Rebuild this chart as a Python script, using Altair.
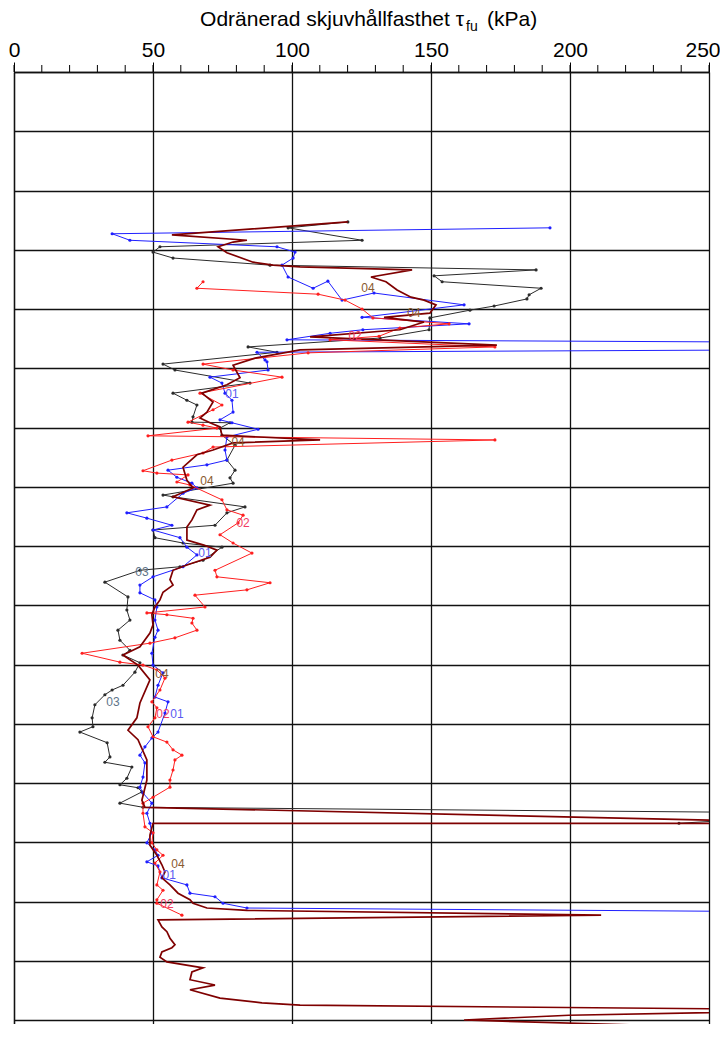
import altair as alt
import pandas as pd

# ---------------- data (kPa, depth m) ----------------
X_TICKS = [0, 50, 100, 150, 200, 250]
X_MINOR = list(range(0, 251, 10))
DEPTH_GRID = list(range(0, 17))
TITLE_PARTS = ["Odränerad skjuvhållfasthet τ", "fu", "(kPa)"]

S01 = [(192.8, 2.63), (35.3, 2.73), (41.7, 2.84), (94.6, 2.95), (101.1, 3.04), (100.4, 3.14),
       (96.4, 3.26), (98.6, 3.46), (107.6, 3.65), (112.9, 3.53), (118.0, 3.85), (129.5, 3.73),
       (161.9, 3.93), (125.2, 4.14), (163.7, 4.25), (125.5, 4.35), (113.7, 4.41), (98.2, 4.52),
       (320, 4.57), (320, 4.68), (87.4, 4.73), (90.3, 4.86), (91.0, 4.89), (91.4, 5.03),
       (70.5, 5.15), (74.8, 5.25), (75.9, 5.42), (78.4, 5.54), (78.8, 5.74), (74.1, 5.87),
       (78.4, 5.92), (87.8, 6.03), (76.6, 6.16), (75.9, 6.38), (76.6, 6.55), (69.4, 6.63),
       (55.4, 6.72), (58.6, 6.84), (64.0, 6.94), (65.8, 7.02), (60.8, 7.11), (55.0, 7.34),
       (40.6, 7.44), (47.8, 7.53), (56.8, 7.65), (50.0, 7.73), (59.7, 7.86), (62.2, 8.02),
       (65.8, 8.15), (60.8, 8.35), (50.0, 8.52), (45.3, 8.66), (45.3, 8.79), (50.7, 8.91),
       (51.4, 9.03), (50.7, 9.25), (51.8, 9.42), (50.7, 9.54), (49.6, 9.81), (50.0, 10.01),
       (53.6, 10.14), (51.8, 10.35), (50.7, 10.55), (55.4, 10.63), (54.3, 10.82), (51.8, 11.14),
       (49.6, 11.24), (47.1, 11.39), (45.3, 11.53), (47.1, 11.66), (46.4, 11.90), (45.3, 12.07),
       (46.4, 12.17), (49.6, 12.34), (47.8, 12.51), (48.9, 12.68), (49.6, 12.84), (47.8, 13.01),
       (50.7, 13.13), (51.8, 13.22), (47.8, 13.33), (51.8, 13.40), (53.2, 13.60), (62.2, 13.72),
       (63.3, 13.86), (72.3, 13.92), (75.2, 14.03), (83.8, 14.11), (300, 14.18)]

S02 = [(68.0, 3.54), (65.8, 3.65), (109.4, 3.75), (119.1, 3.85), (125.2, 4.00), (129.1, 4.15),
       (156.5, 4.25), (138.8, 4.32), (131.3, 4.46), (113.7, 4.52), (173.0, 4.64), (105.8, 4.74),
       (68.0, 4.93), (78.8, 5.03), (96.4, 5.15), (66.9, 5.42), (74.8, 5.62), (71.6, 5.70),
       (62.6, 5.91), (68.0, 5.96), (73.0, 6.01), (48.2, 6.14), (173.0, 6.21), (71.6, 6.33),
       (68.0, 6.43), (56.8, 6.55), (46.4, 6.73), (51.4, 6.77), (62.6, 6.80), (58.6, 6.92),
       (63.3, 6.97), (74.8, 7.22), (76.6, 7.39), (82.4, 7.48), (80.6, 7.61), (74.1, 7.81),
       (78.8, 7.95), (85.6, 8.12), (72.3, 8.41), (73.0, 8.52), (92.1, 8.62), (83.8, 8.74),
       (65.1, 8.83), (68.7, 9.03), (47.8, 9.13), (55.0, 9.16), (64.4, 9.22), (64.0, 9.30),
       (65.8, 9.42), (57.9, 9.55), (48.9, 9.64), (24.5, 9.81), (38.1, 9.96), (46.4, 10.01),
       (51.4, 10.09), (54.3, 10.23), (52.5, 10.43), (49.6, 10.63), (51.4, 10.73), (50.7, 10.90),
       (48.2, 11.05), (50.0, 11.22), (55.0, 11.31), (57.2, 11.44), (60.4, 11.53), (57.9, 11.61),
       (57.2, 11.78), (56.1, 11.95), (56.1, 12.07), (50.0, 12.24), (46.4, 12.34), (46.4, 12.51),
       (47.1, 12.74), (50.0, 12.84), (49.6, 13.01), (51.4, 13.13), (53.6, 13.22), (50.7, 13.35),
       (52.5, 13.50), (51.4, 13.72), (53.6, 13.81), (51.4, 13.97), (51.4, 14.03), (60.4, 14.23)]

S03 = [(120.1, 2.53), (98.6, 2.63), (125.2, 2.84), (52.5, 2.95), (50.0, 3.04), (57.2, 3.14),
       (92.1, 3.26), (187.8, 3.34), (151.1, 3.44), (154.0, 3.54), (189.6, 3.65), (185.3, 3.76),
       (184.5, 3.83), (172.7, 3.95), (164.0, 4.02), (149.6, 4.15), (149.3, 4.35), (131.7, 4.49),
       (84.2, 4.64), (94.6, 4.73), (53.6, 4.93), (57.9, 5.03), (84.9, 5.25), (57.2, 5.42),
       (62.2, 5.54), (65.8, 5.62), (64.4, 5.82), (64.0, 5.91), (77.7, 5.92), (74.1, 6.01),
       (74.8, 6.13), (79.5, 6.30), (76.6, 6.55), (79.5, 6.72), (77.7, 6.85), (78.8, 6.94),
       (53.6, 7.14), (57.2, 7.17), (83.1, 7.34), (76.6, 7.44), (72.3, 7.65), (50.0, 7.73),
       (50.7, 7.86), (60.8, 7.95), (74.8, 8.02), (68.0, 8.24), (59.7, 8.35), (45.3, 8.41),
       (32.7, 8.61), (41.0, 8.86), (40.6, 9.08), (41.7, 9.25), (37.4, 9.42), (38.1, 9.59),
       (41.7, 9.76), (39.2, 9.84), (45.3, 9.97), (43.5, 10.13), (39.2, 10.35), (35.3, 10.43),
       (32.7, 10.51), (29.1, 10.68), (28.1, 10.90), (28.4, 11.05), (23.7, 11.14), (33.5, 11.32),
       (34.5, 11.56), (32.7, 11.65), (42.4, 11.73), (40.6, 11.92), (38.1, 12.03), (44.6, 12.08),
       (46.0, 12.15), (38.1, 12.34), (46.4, 12.41), (300, 12.51), (239.2, 12.68)]

S04 = [(120.1, 2.53), (56.8, 2.75), (83.8, 2.84), (78.8, 2.87), (73.4, 2.95), (76.6, 3.05),
       (86.0, 3.21), (93.2, 3.26), (102.9, 3.29), (143.2, 3.34), (128.4, 3.46), (133.8, 3.54),
       (137.8, 3.68), (142.8, 3.80), (147.5, 3.85), (151.8, 3.93), (149.6, 4.07), (133.1, 4.14),
       (147.5, 4.22), (138.8, 4.35), (106.5, 4.47), (173.7, 4.61), (102.9, 4.69), (86.7, 4.83),
       (78.8, 4.95), (81.3, 5.16), (76.6, 5.28), (67.6, 5.42), (71.6, 5.57), (69.4, 5.74),
       (66.9, 5.84), (70.5, 5.92), (74.1, 5.99), (74.8, 6.13), (110.1, 6.21), (78.8, 6.26),
       (71.6, 6.38), (65.8, 6.46), (60.8, 6.67), (62.2, 6.89), (64.4, 7.02), (57.2, 7.17),
       (70.5, 7.31), (65.8, 7.39), (64.0, 7.56), (62.2, 7.68), (62.2, 7.90), (68.0, 7.98),
       (73.0, 8.07), (70.5, 8.19), (62.2, 8.32), (57.2, 8.41), (56.1, 8.57), (57.2, 8.66),
       (53.6, 8.78), (52.5, 8.91), (50.7, 9.03), (49.6, 9.16), (50.0, 9.33), (48.9, 9.47),
       (45.3, 9.70), (39.2, 9.84), (44.6, 10.01), (48.9, 10.26), (45.3, 10.65), (44.2, 10.90),
       (41.0, 11.11), (44.6, 11.27), (47.8, 11.61), (47.8, 11.95), (46.0, 12.29), (47.1, 12.41),
       (300, 12.68), (50.0, 12.68), (48.9, 12.88), (48.9, 13.05), (51.4, 13.22), (53.2, 13.38),
       (54.3, 13.50), (53.2, 13.60), (56.1, 13.72), (59.0, 13.86), (63.3, 13.97), (64.4, 14.03),
       (69.4, 14.11), (83.8, 14.15), (211.2, 14.23), (51.8, 14.31), (53.2, 14.43), (55.0, 14.51),
       (56.1, 14.62), (57.9, 14.73), (56.8, 14.78), (53.2, 14.85), (52.5, 14.94), (55.0, 15.02),
       (68.0, 15.12), (64.0, 15.19), (63.3, 15.32), (72.3, 15.41), (63.3, 15.49), (74.1, 15.63),
       (89.2, 15.71), (102.9, 15.75), (300, 15.83), (199.6, 15.92), (161.9, 16.00), (300, 16.19)]

LABELS = [("04", 127.3, 3.65), ("04", 143.9, 4.07), ("02", 122.7, 4.46), ("01", 78.4, 5.43),
          ("04", 80.6, 6.24), ("04", 69.4, 6.90), ("02", 82.4, 7.61), ("01", 68.7, 8.12),
          ("03", 46.0, 8.44), ("04", 53.2, 10.16), ("03", 35.6, 10.63), ("02", 53.6, 10.84),
          ("01", 58.6, 10.84), ("04", 59.0, 13.36), ("01", 55.8, 13.55), ("02", 55.0, 14.04)]

SERIES_COLORS = {"01": "#1f1fff", "02": "#ff1f1f", "03": "#2b2b2b", "04": "#7f0000"}
LABEL_COLORS = {"01": "#5a5af0", "02": "#f03c64", "03": "#60758a", "04": "#8a5a30"}

# ---------------- chart ----------------
W, H = 695, 952
D_MAX = H / 59.25
FONT = "Liberation Sans, Arial, Helvetica, sans-serif"

xs = alt.Scale(domain=[0, 250], nice=False, zero=False)
ys = alt.Scale(domain=[0, D_MAX], reverse=True, nice=False, zero=False)

x_axis = alt.Axis(orient="top", values=X_TICKS, title=None, ticks=True, tickSize=10,
                  tickColor="black", tickWidth=1, labelFontSize=21, labelFont=FONT,
                  labelColor="black", labelPadding=2, labelFlush=False,
                  labelAlign={"condition": {"test": "datum.value >= 250", "value": "right"},
                              "value": "center"},
                  labelOffset={"condition": {"test": "datum.value >= 250", "value": 11},
                               "value": 0},
                  grid=True, gridColor="#111111", gridWidth=1.3, gridOpacity=1, domain=True,
                  domainColor="#111111", domainWidth=1.3)
y_axis = alt.Axis(orient="left", values=DEPTH_GRID, title=None, labels=False, ticks=False,
                  grid=True, gridColor="#111111", gridWidth=1.3, gridOpacity=1,
                  domain=True, domainColor="#111111", domainWidth=1.3)


def series_df(pairs, name):
    return pd.DataFrame({"kpa": [p[0] for p in pairs], "depth": [p[1] for p in pairs],
                         "idx": list(range(len(pairs))), "series": name})


layers = []

# minor ticks on top axis
minor = alt.Chart(pd.DataFrame({"kpa": X_MINOR})).mark_rule(color="black", strokeWidth=1).encode(
    x=alt.X("kpa:Q", scale=xs, axis=x_axis), y=alt.value(-7), y2=alt.value(0))
layers.append(minor)

for name, pairs, pts, width in [("03", S03, True, 1.0), ("01", S01, True, 1.0),
                                ("02", S02, True, 1.0), ("04", S04, False, 1.7)]:
    df = series_df(pairs, name)
    base = alt.Chart(df).encode(
        x=alt.X("kpa:Q", scale=xs, axis=x_axis),
        y=alt.Y("depth:Q", scale=ys, axis=y_axis),
        order="idx:Q")
    layers.append(base.mark_line(color=SERIES_COLORS[name], strokeWidth=width, clip=True))
    if pts:
        layers.append(base.mark_point(filled=True, size=10, opacity=1,
                                      color=SERIES_COLORS[name], clip=True))

lab_df = pd.DataFrame({"text": [l[0] for l in LABELS], "kpa": [l[1] for l in LABELS],
                       "depth": [l[2] for l in LABELS]})
labels = alt.Chart(lab_df).mark_text(fontSize=12, font=FONT, align="center", baseline="middle").encode(
    x=alt.X("kpa:Q", scale=xs, axis=x_axis),
    y=alt.Y("depth:Q", scale=ys, axis=y_axis),
    text="text:N",
    color=alt.Color("text:N", scale=alt.Scale(domain=list(LABEL_COLORS.keys()),
                                              range=list(LABEL_COLORS.values())), legend=None))
layers.append(labels)

# title (with subscript)
t_main = alt.Chart(pd.DataFrame({"t": [TITLE_PARTS[0]]})).mark_text(
    fontSize=21, font=FONT, align="right", baseline="middle", color="black").encode(
    text="t:N", x=alt.value(450), y=alt.value(-52))
t_sub = alt.Chart(pd.DataFrame({"t": [TITLE_PARTS[1]]})).mark_text(
    fontSize=14, font=FONT, align="left", baseline="middle", color="black").encode(
    text="t:N", x=alt.value(452), y=alt.value(-45))
t_unit = alt.Chart(pd.DataFrame({"t": [TITLE_PARTS[2]]})).mark_text(
    fontSize=21, font=FONT, align="left", baseline="middle", color="black").encode(
    text="t:N", x=alt.value(473), y=alt.value(-52))
layers += [t_main, t_sub, t_unit]

chart = alt.layer(*layers).properties(
    width=W, height=H,
    autosize=alt.AutoSizeParams(type="none"),
    padding={"left": 6, "top": 64, "right": 11, "bottom": 0},
).configure_view(stroke=None).configure(background="white")

chart.save("out.html", embed_options={"renderer": "svg", "actions": False})
